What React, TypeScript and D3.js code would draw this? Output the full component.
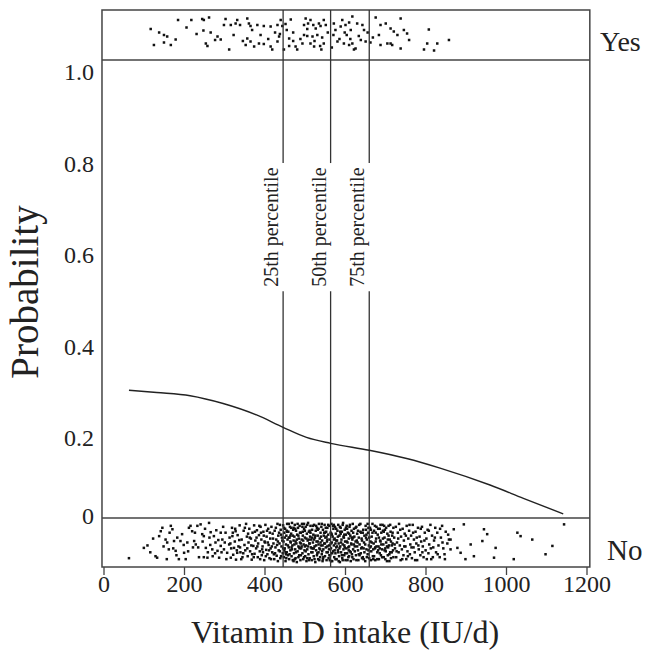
import React from "react";
import * as d3 from "d3";

// fitted probability curve
const curveX = [62, 131, 214, 296, 379, 445, 503, 563, 659, 752, 835, 959, 1042, 1141];
const curveP = [0.279, 0.274, 0.267, 0.25, 0.225, 0.198, 0.176, 0.163, 0.148, 0.13, 0.109, 0.072, 0.043, 0.009];

const percentiles = [
  { label: "25th percentile", value: 445 },
  { label: "50th percentile", value: 563 },
  { label: "75th percentile", value: 659 },
];

const xTicks = [0, 200, 400, 600, 800, 1000, 1200];
const yTicks = [0, 0.2, 0.4, 0.6, 0.8, 1.0];
const yTickLabels = ["0", "0.2", "0.4", "0.6", "0.8", "1.0"];

// jittered raw observations: [intake, jitter % of band]
const yesPoints = [
  [116, 38], [137, 45], [149, 50], [157, 53], [124, 70], [149, 65], [166, 70], [178, 59], [184, 20], [205, 35],
  [217, 20], [230, 48], [244, 18], [248, 20], [261, 15], [247, 41], [265, 45], [276, 60], [282, 53], [290, 59],
  [253, 67], [257, 72], [311, 79], [302, 18], [298, 30], [315, 30], [322, 50], [327, 27], [331, 20], [338, 30],
  [345, 62], [356, 17], [360, 27], [364, 32], [381, 30], [368, 40], [389, 50], [397, 32], [408, 58], [414, 33],
  [425, 45], [431, 30], [439, 20], [443, 32], [356, 57], [364, 63], [352, 70], [373, 73], [385, 67], [397, 68],
  [414, 73], [418, 79], [431, 63], [435, 53], [437, 48], [451, 28], [454, 40], [460, 57], [464, 19], [447, 79],
  [460, 72], [470, 45], [470, 62], [476, 73], [480, 79], [488, 58], [497, 30], [501, 17], [505, 38], [507, 27],
  [513, 20], [520, 30], [523, 62], [526, 37], [534, 27], [538, 32], [540, 79], [542, 55], [546, 20], [551, 30],
  [556, 45], [566, 75], [497, 50], [505, 52], [518, 53], [530, 50], [493, 67], [513, 67], [522, 73], [537, 72],
  [546, 67], [571, 27], [575, 40], [570, 50], [580, 63], [585, 58], [588, 33], [592, 20], [598, 45], [600, 30],
  [609, 25], [612, 58], [617, 13], [613, 40], [603, 50], [596, 67], [609, 70], [617, 67], [625, 77], [629, 27],
  [633, 52], [642, 30], [646, 40], [638, 60], [650, 63], [621, 79], [655, 45], [662, 65], [668, 55], [675, 15],
  [687, 30], [700, 27], [712, 37], [720, 43], [729, 50], [737, 17], [745, 40], [753, 47], [758, 60], [683, 50],
  [687, 70], [704, 67], [712, 67], [716, 70], [737, 77], [795, 79], [803, 67], [820, 81], [828, 67], [807, 39],
  [857, 60],
];

const noLow = [
  [62, 82], [99, 61], [108, 56], [115, 70], [122, 42], [128, 78], [132, 81], [137, 37], [141, 27], [145, 20],
  [148, 58], [153, 44], [156, 84], [157, 50], [161, 64], [163, 30], [166, 16], [170, 23], [172, 62], [174, 47],
  [178, 67], [180, 76], [182, 40], [186, 84], [190, 47], [194, 33], [198, 55], [199, 71], [203, 84], [207, 50],
  [209, 68], [211, 20], [215, 16], [219, 27], [221, 60], [224, 47], [226, 30], [228, 54], [232, 16], [236, 80],
  [240, 13], [244, 33], [245, 48], [248, 37], [251, 22], [253, 61], [257, 81], [258, 70], [261, 10], [264, 55],
  [265, 29], [269, 64], [270, 78], [273, 37], [277, 50], [279, 25], [282, 67], [284, 45], [286, 81], [290, 57],
  [292, 70], [294, 44], [296, 18], [298, 64], [300, 50], [302, 30], [304, 84], [306, 71], [311, 54], [315, 81],
  [319, 37], [323, 61], [327, 27], [331, 71], [290, 30], [276, 72], [262, 40], [248, 80], [234, 60],
];

const noMid = [
  [312, 40], [316, 62], [318, 20], [321, 75], [325, 48], [328, 85], [332, 35], [334, 58], [337, 15], [339, 70],
  [342, 44], [344, 80], [347, 26], [349, 55], [351, 66], [353, 12], [355, 38], [357, 78], [359, 50], [361, 22],
  [363, 68], [365, 42], [367, 85], [369, 30], [371, 57], [373, 15], [374, 73], [376, 46], [378, 62], [380, 25],
  [382, 80], [383, 52], [385, 35], [387, 68], [389, 18], [391, 44], [392, 76], [394, 58], [396, 28], [398, 86],
  [399, 48], [401, 14], [403, 65], [404, 38], [406, 74], [408, 22], [409, 55], [411, 82], [413, 42], [414, 62],
  [416, 18], [418, 70], [419, 32], [421, 52], [423, 84], [424, 26], [426, 60], [428, 44], [429, 77], [431, 12],
  [433, 36], [434, 66], [436, 52], [438, 82], [439, 24], [441, 58], [442, 40], [444, 72], [314, 52], [326, 22],
  [338, 60], [346, 72], [358, 32], [366, 56], [372, 80], [379, 40], [386, 16], [393, 64], [397, 36], [402, 78],
  [407, 50], [412, 30], [417, 58], [422, 74], [427, 20], [432, 48], [437, 68], [440, 34], [320, 30], [330, 66],
  [336, 45], [341, 84], [350, 20], [356, 62], [362, 40], [368, 74], [375, 28], [381, 58], [388, 84], [390, 30],
  [395, 70], [400, 50], [405, 26], [410, 66], [415, 84], [420, 42], [425, 72],
];

const noCore = [
  [445, 15], [446, 48], [447, 80], [448, 30], [449, 62], [450, 22], [451, 88], [452, 54], [453, 36], [454, 70],
  [455, 12], [456, 44], [457, 76], [458, 28], [459, 60], [460, 84], [461, 40], [462, 18], [463, 66], [464, 50],
  [465, 32], [466, 78], [467, 10], [468, 56], [469, 86], [470, 24], [471, 46], [472, 72], [473, 38], [474, 14],
  [475, 64], [476, 82], [477, 26], [478, 52], [479, 90], [480, 34], [481, 68], [482, 20], [483, 58], [484, 42],
  [485, 76], [486, 16], [487, 50], [488, 86], [489, 30], [490, 62], [491, 44], [492, 12], [493, 72], [494, 36],
  [495, 84], [496, 54], [497, 22], [498, 66], [499, 40], [500, 78], [501, 18], [502, 56], [503, 88], [504, 32],
  [505, 64], [506, 46], [507, 10], [508, 74], [509, 28], [510, 52], [511, 82], [512, 38], [513, 16], [514, 60],
  [515, 44], [516, 86], [517, 24], [518, 70], [519, 50], [520, 34], [521, 78], [522, 14], [523, 58], [524, 40],
  [525, 90], [526, 26], [527, 66], [528, 48], [529, 20], [530, 72], [531, 36], [532, 84], [533, 54], [534, 12],
  [535, 62], [536, 42], [537, 80], [538, 30], [539, 56], [540, 18], [541, 74], [542, 46], [543, 88], [544, 24],
  [545, 64], [546, 36], [547, 52], [548, 14], [549, 78], [550, 40], [551, 60], [552, 28], [553, 86], [554, 48],
  [555, 20], [556, 70], [557, 34], [558, 82], [559, 56], [560, 16], [561, 44], [562, 76], [563, 30], [564, 62],
  [565, 12], [566, 50], [567, 88], [568, 38], [569, 68], [570, 22], [571, 56], [572, 80], [573, 42], [574, 18],
  [575, 72], [576, 32], [577, 60], [578, 84], [579, 46], [580, 26], [581, 66], [582, 14], [583, 52], [584, 78],
  [585, 36], [586, 90], [587, 58], [588, 20], [589, 70], [590, 44], [591, 28], [592, 82], [593, 54], [594, 10],
  [595, 64], [596, 40], [597, 76], [598, 24], [599, 48], [600, 86], [601, 34], [602, 62], [603, 16], [604, 72],
  [605, 50], [606, 30], [607, 80], [608, 42], [609, 58], [610, 18], [611, 68], [612, 36], [613, 88], [614, 52],
  [615, 26], [616, 74], [617, 44], [618, 12], [619, 64], [620, 84], [622, 38], [623, 58], [625, 20], [626, 76],
  [628, 46], [629, 32], [631, 66], [632, 86], [634, 14], [635, 54], [637, 28], [638, 72], [640, 42], [641, 60],
  [643, 80], [644, 24], [646, 50], [647, 36], [649, 88], [650, 16], [652, 64], [653, 44], [655, 74], [656, 30],
  [658, 56], [659, 82], [661, 20], [662, 48], [664, 68], [665, 38], [667, 12], [668, 78], [670, 52], [671, 26],
  [673, 62], [674, 86], [676, 42], [677, 18], [679, 70], [680, 34], [682, 58], [683, 84], [685, 22], [686, 46],
  [688, 76], [689, 30], [691, 64], [692, 14], [694, 54], [695, 80], [697, 40], [698, 24], [700, 68], [701, 50],
  [703, 88], [704, 32], [706, 60], [707, 16], [709, 74], [710, 44], [712, 28], [713, 82], [715, 56], [716, 36],
  [718, 66], [719, 20], [448, 66], [454, 26], [459, 40], [466, 60], [471, 20], [476, 48], [483, 80], [489, 52],
  [494, 28], [499, 58], [505, 82], [511, 26], [516, 62], [522, 44], [527, 16], [533, 70], [538, 50], [544, 84],
  [549, 30], [555, 58], [560, 76], [566, 34], [571, 14], [577, 46], [582, 70], [588, 32], [593, 86], [598, 60],
  [604, 22], [609, 78], [615, 40], [621, 54], [627, 18], [633, 74], [639, 30], [645, 62], [651, 40], [657, 20],
  [663, 58], [669, 84], [675, 30], [681, 66], [687, 48], [693, 26], [699, 62], [705, 44], [711, 70], [717, 52],
  [452, 74], [463, 36], [474, 84], [486, 62], [497, 12], [509, 44], [520, 62], [531, 24], [542, 68], [553, 38],
  [564, 88], [575, 52], [586, 18], [597, 34], [608, 66], [619, 30], [630, 50], [641, 82], [652, 34], [663, 24],
  [674, 60], [685, 72], [696, 16], [708, 56],
];

const noDense = [
  [430, 55], [432, 88], [435, 30], [437, 14], [440, 78], [443, 46], [445, 62], [447, 20], [449, 40], [451, 70],
  [453, 82], [455, 28], [457, 56], [459, 12], [461, 74], [463, 48], [465, 20], [467, 64], [469, 36], [471, 88],
  [473, 54], [475, 22], [477, 70], [479, 44], [481, 12], [483, 36], [485, 60], [487, 30], [489, 76], [491, 58],
  [493, 18], [495, 46], [497, 80], [499, 26], [501, 68], [503, 42], [505, 14], [507, 58], [509, 86], [511, 52],
  [513, 30], [515, 70], [517, 40], [519, 16], [521, 62], [523, 84], [525, 36], [527, 56], [529, 76], [531, 48],
  [533, 22], [535, 86], [537, 64], [539, 38], [541, 12], [543, 56], [545, 80], [547, 30], [549, 52], [551, 20],
  [553, 70], [555, 44], [557, 14], [559, 64], [561, 86], [563, 52], [565, 32], [567, 72], [569, 16], [571, 44],
  [573, 66], [575, 84], [577, 22], [579, 58], [581, 38], [583, 88], [585, 62], [587, 28], [589, 50], [591, 76],
  [593, 14], [595, 38], [597, 56], [599, 72], [601, 20], [603, 48], [605, 86], [607, 60], [609, 32], [611, 14],
  [613, 70], [615, 54], [617, 80], [619, 40], [621, 22], [623, 68], [625, 48], [627, 86], [629, 58], [631, 26],
  [633, 40], [635, 76], [637, 12], [639, 62], [641, 46], [643, 30], [645, 84], [647, 70], [649, 54], [651, 24],
  [653, 80], [655, 12], [657, 66], [659, 40], [661, 60], [663, 86], [665, 50], [667, 30], [669, 64], [671, 78],
  [673, 16], [675, 48], [677, 58], [679, 84], [681, 22], [683, 40], [685, 62], [687, 14], [689, 54], [691, 80],
  [693, 42], [695, 28], [697, 66], [699, 84], [701, 20], [703, 58], [705, 76], [707, 36], [709, 88], [711, 14],
  [713, 48], [715, 70], [717, 30], [719, 80], [722, 54], [727, 68], [731, 42], [736, 24], [741, 84], [746, 58],
  [750, 36], [755, 78], [759, 14], [764, 60], [768, 30], [773, 86], [777, 40], [781, 56], [787, 22], [791, 70],
  [796, 46], [802, 84], [807, 26], [812, 62], [817, 80], [822, 40], [829, 74], [835, 22], [841, 50], [847, 84],
  [855, 34],
];

const noHigh = [
  [721, 40], [723, 62], [725, 18], [726, 80], [728, 50], [730, 30], [732, 70], [733, 12], [735, 56], [737, 86],
  [738, 38], [740, 64], [742, 22], [744, 76], [745, 46], [747, 32], [749, 58], [751, 84], [752, 16], [754, 68],
  [756, 42], [758, 26], [760, 74], [761, 54], [763, 36], [765, 82], [767, 14], [769, 60], [770, 44], [772, 70],
  [774, 28], [776, 52], [778, 86], [780, 20], [782, 64], [784, 38], [786, 76], [788, 48], [790, 18], [792, 58],
  [794, 80], [797, 30], [799, 66], [801, 42], [804, 24], [806, 72], [808, 54], [811, 14], [813, 84], [815, 36],
  [818, 60], [820, 46], [823, 20], [825, 70], [828, 30], [831, 56], [834, 80], [837, 40], [840, 16], [843, 62],
  [846, 74], [849, 28], [853, 52], [857, 44], [861, 64], [861, 44], [869, 23], [878, 61], [886, 71], [894, 13],
  [898, 84], [911, 54], [919, 78], [940, 47], [944, 23], [952, 33], [969, 81], [973, 61], [1018, 84], [1027, 30],
  [1035, 37], [1064, 44], [1097, 74], [1114, 57], [1143, 13],
];

const FONT = "'Liberation Serif', 'Times New Roman', serif";
const INK = "#222";
const DOT = 2.5;

export default function App() {
  const width = 654;
  const height = 665;

  const x = d3.scaleLinear().domain([0, 1200]).range([104, 587]);
  const y = d3.scaleLinear().domain([0, 1]).range([518, 60]);
  const yesBand = d3.scaleLinear().domain([0, 100]).range([10, 60]);
  const noBand = d3.scaleLinear().domain([0, 100]).range([518, 567]);

  const frameLeft = x(-5);
  const frameRight = x(1207);
  const frameTop = yesBand(0);
  const frameBottom = noBand(100);

  const gapTop = y(0.775);
  const gapBottom = y(0.495);
  const labelMid = (gapTop + gapBottom) / 2;

  const line = d3
    .line<number>()
    .x((d) => x(curveX[d]))
    .y((d) => y(curveP[d]))
    .curve(d3.curveMonotoneX);

  const noPoints = [...noLow, ...noMid, ...noCore, ...noDense, ...noHigh];

  return (
    <svg
      width={width}
      height={height}
      style={{ position: "absolute", left: 0, top: 0, background: "#fff" }}
      fontFamily={FONT}
    >
      <rect width={width} height={height} fill="#fff" />

      {/* points */}
      {yesPoints.map((d, i) => (
        <rect key={`y${i}`} x={x(d[0]) - DOT / 2} y={yesBand(d[1]) - DOT / 2} width={DOT} height={DOT} fill="#111" />
      ))}
      {noPoints.map((d, i) => (
        <rect key={`n${i}`} x={x(d[0]) - DOT / 2} y={noBand(d[1]) - DOT / 2} width={DOT} height={DOT} fill="#111" />
      ))}

      {/* frame */}
      <rect
        x={frameLeft}
        y={frameTop}
        width={frameRight - frameLeft}
        height={frameBottom - frameTop}
        fill="none"
        stroke="#444"
        strokeWidth={1.5}
      />
      <line x1={frameLeft} x2={frameRight} y1={y(1)} y2={y(1)} stroke="#444" strokeWidth={1.5} />
      <line x1={frameLeft} x2={frameRight} y1={y(0)} y2={y(0)} stroke="#444" strokeWidth={1.5} />

      {/* percentile lines */}
      {percentiles.map((p) => (
        <g key={p.label}>
          <line x1={x(p.value)} x2={x(p.value)} y1={frameTop} y2={gapTop} stroke="#333" strokeWidth={1.3} />
          <line x1={x(p.value)} x2={x(p.value)} y1={gapBottom} y2={frameBottom} stroke="#333" strokeWidth={1.3} />
          <text
            transform={`translate(${x(p.value) - 5}, ${labelMid}) rotate(-90)`}
            textAnchor="middle"
            fontSize={20}
            fill={INK}
          >
            {p.label}
          </text>
        </g>
      ))}

      {/* curve */}
      <path d={line(d3.range(curveX.length)) ?? ""} fill="none" stroke={INK} strokeWidth={1.4} />

      {/* x axis */}
      {xTicks.map((t) => (
        <g key={`xt${t}`}>
          <line x1={x(t)} x2={x(t)} y1={frameBottom} y2={frameBottom + 8} stroke="#444" strokeWidth={1.3} />
          <text x={x(t)} y={frameBottom + 25} textAnchor="middle" fontSize={24} fill={INK}>
            {t}
          </text>
        </g>
      ))}
      <text x={345} y={643} textAnchor="middle" fontSize={32} fill={INK}>
        Vitamin D intake (IU/d)
      </text>

      {/* y axis */}
      {yTicks.map((t, i) => (
        <text key={`yt${t}`} x={94} y={y(t) + (t === 0 ? 6 : 20)} textAnchor="end" fontSize={24} fill={INK}>
          {yTickLabels[i]}
        </text>
      ))}
      <text transform={`translate(38, 292) rotate(-90)`} textAnchor="middle" fontSize={39} fill={INK}>
        Probability
      </text>

      {/* outcome labels */}
      <text x={600} y={51} fontSize={28} fill={INK}>
        Yes
      </text>
      <text x={607} y={560} fontSize={29} fill={INK}>
        No
      </text>
    </svg>
  );
}
